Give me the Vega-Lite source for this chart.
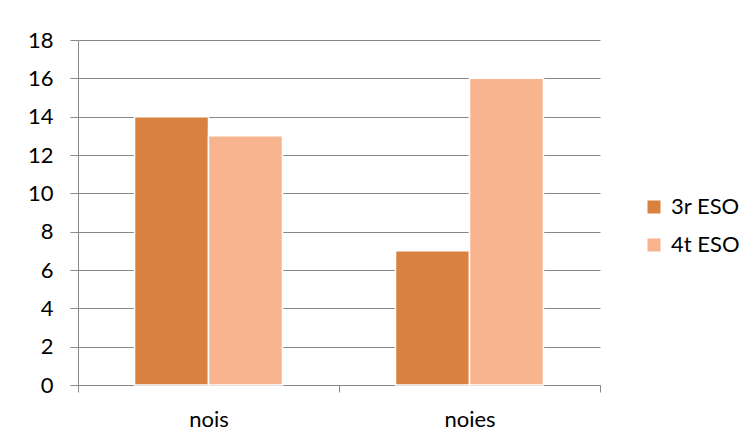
{
  "$schema": "https://vega.github.io/schema/vega-lite/v6.json",
  "autosize": "none",
  "width": 522,
  "height": 345,
  "padding": {"left": 78, "top": 40, "right": 150, "bottom": 60},
  "background": "white",
  "config": {"view": {"stroke": null}, "font": "Lato"},
  "data": {"values": [
    {"grup": "nois", "curs": "3r ESO", "valor": 14},
    {"grup": "nois", "curs": "4t ESO", "valor": 13},
    {"grup": "noies", "curs": "3r ESO", "valor": 7},
    {"grup": "noies", "curs": "4t ESO", "valor": 16}
  ]},
  "mark": {"type": "bar", "stroke": "white", "strokeWidth": 1.5},
  "encoding": {
    "x": {"field": "grup", "type": "nominal", "sort": ["nois", "noies"],
      "scale": {"paddingInner": 0, "paddingOuter": 0},
      "axis": {"title": null, "labelAngle": 0, "labelFontSize": 22, "labelColor": "#000", "labelPadding": 17,
        "ticks": true, "tickBand": "extent", "tickSize": 7, "tickColor": "#888", "domain": true, "domainColor": "#888", "grid": false}},
    "xOffset": {"field": "curs", "type": "nominal", "scale": {"paddingInner": 0, "paddingOuter": 0.764}},
    "y": {"field": "valor", "type": "quantitative",
      "scale": {"domain": [0, 18], "nice": false},
      "axis": {"title": null, "values": [0,2,4,6,8,10,12,14,16,18], "labelFontSize": 22, "labelColor": "#000", "labelPadding": 17,
        "tickSize": 8, "tickColor": "#888", "domainColor": "#888", "gridColor": "#888", "gridOpacity": 1, "grid": true}},
    "color": {"field": "curs", "type": "nominal",
      "scale": {"domain": ["3r ESO", "4t ESO"], "range": ["#D9823F", "#F8B48F"]},
      "legend": {"title": null, "orient": "none", "legendX": 565, "legendY": 156, "symbolType": "square", "symbolSize": 169, "symbolStrokeWidth": 0, "labelFontSize": 22, "labelColor": "#000", "rowPadding": 16, "labelOffset": 6}}
  }
}
